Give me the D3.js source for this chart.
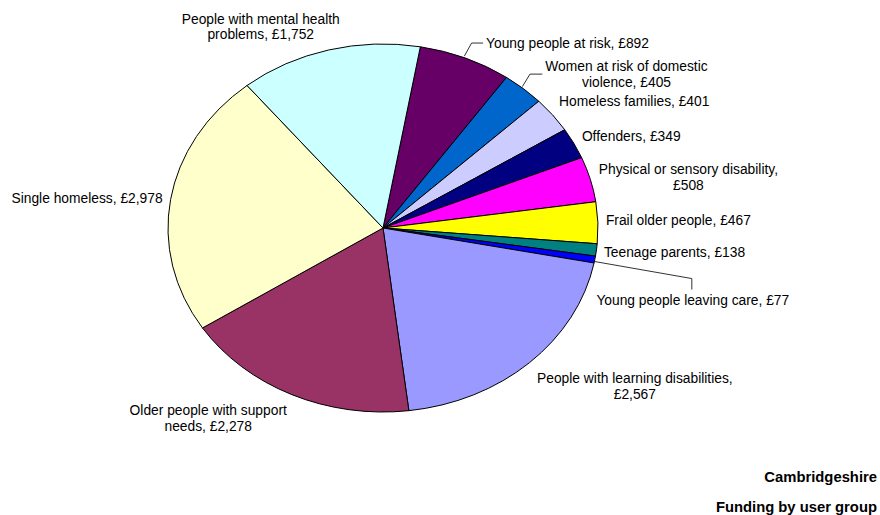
<!DOCTYPE html>
<html>
<head>
<meta charset="utf-8">
<script src="https://cdn.jsdelivr.net/npm/d3@7"></script>
<style>
  html, body { margin: 0; padding: 0; background: #fff; }
  svg { display: block; font-family: "Liberation Sans", Arial, sans-serif; }
</style>
</head>
<body>
<svg id="chart" width="880" height="515"></svg>
<script>
// Funding per user group (£ thousands), clockwise from the first slice
const categories = [
  "Young people at risk",
  "Women at risk of domestic violence",
  "Homeless families",
  "Offenders",
  "Physical or sensory disability",
  "Frail older people",
  "Teenage parents",
  "Young people leaving care",
  "People with learning disabilities",
  "Older people with support needs",
  "Single homeless",
  "People with mental health problems"
];
const values = [892, 405, 401, 349, 508, 467, 138, 77, 2567, 2278, 2978, 1752];
const colors = [
  "#660066", "#0066CC", "#CCCCFF", "#000080", "#FF00FF", "#FFFF00",
  "#008080", "#0000FF", "#9999FF", "#993366", "#FFFFCC", "#CCFFFF"
];
// number of words kept on the first label line (0 = single line)
const labelBreaks = [0, 5, 0, 0, 4, 0, 0, 0, 4, 4, 0, 4];
const titleLines = ["Cambridgeshire", "Funding by user group"];

// label placement relative to the slice edge at its mid angle
const labelLayout = [
  { dx: 20.7, dy: -15,  anchor: "left", leader: "elbowUp" },
  { dx: 22,   dy: -14.5, anchor: "left", leader: "elbowUp" },
  { dx: 6.5,  dy: -13,  anchor: "left" },
  { dx: 8,    dy: -7,   anchor: "left" },
  { dx: 8.5,  dy: -1.5, anchor: "left" },
  { dx: 8,    dy: -2,   anchor: "left" },
  { dx: 7.5,  dy: 3,    anchor: "left" },
  { dx: 98,   dy: 33,   anchor: "top", leader: "elbowDown" },
  { dx: 7.5,  dy: 23.5, anchor: "left" },
  { dx: -5,   dy: 24,   anchor: "right" },
  { dx: -8,   dy: -1,   anchor: "right" },
  { dx: 11,   dy: -23,  anchor: "right" }
];

const cx = 383, cy = 228, rx = 215, ry = 184;
const fontSize = 13.8, lineH = 15.8;
const startDeg = 10;

const svg = d3.select("#chart");
const fmt = d3.format(",");

const pie = d3.pie().sort(null).value(d => d)
  .startAngle(startDeg * Math.PI / 180)
  .endAngle((startDeg + 360) * Math.PI / 180);
const arcs = pie(values);
const arc = d3.arc().innerRadius(0).outerRadius(rx);

// pie drawn as a circle and flattened vertically into an ellipse
svg.append("g")
  .attr("transform", `translate(${cx},${cy}) scale(1,${ry / rx})`)
  .selectAll("path")
  .data(arcs)
  .join("path")
  .attr("d", arc)
  .attr("fill", (d, i) => colors[i])
  .attr("stroke", "#000")
  .attr("stroke-width", 1)
  .attr("vector-effect", "non-scaling-stroke");

const edgePoint = a => [cx + rx * Math.sin(a), cy - ry * Math.cos(a)];

const labels = svg.append("g")
  .attr("font-size", fontSize)
  .attr("fill", "#000");

arcs.forEach((d, i) => {
  const mid = (d.startAngle + d.endAngle) / 2;
  const [ex, ey] = edgePoint(mid);
  const lay = labelLayout[i];
  const words = `${categories[i]}, £${fmt(values[i])}`.split(" ");
  const lines = labelBreaks[i] > 0
    ? [words.slice(0, labelBreaks[i]).join(" "), words.slice(labelBreaks[i]).join(" ")]
    : [words.join(" ")];

  const t = labels.append("text").attr("text-anchor", "middle");
  lines.forEach((ln, k) => {
    t.append("tspan").text(ln);
  });
  // measure widest line to place the centred block
  const widths = [];
  t.selectAll("tspan").each(function () { widths.push(this.getComputedTextLength()); });
  const w = d3.max(widths);
  const h = lines.length * lineH;
  const px = ex + lay.dx, py = ey + lay.dy;
  let bx, by; // block centre
  if (lay.anchor === "left") { bx = px + w / 2; by = py; }
  else if (lay.anchor === "right") { bx = px - w / 2; by = py; }
  else if (lay.anchor === "top") { bx = px; by = py + h / 2; }
  t.selectAll("tspan")
    .attr("x", bx)
    .attr("y", (s, k) => by - h / 2 + lineH * (k + 0.5))
    .attr("dominant-baseline", "central");

  if (lay.leader === "elbowUp") {
    const elbowX = ex + (px - ex) * 0.3;
    svg.append("polyline")
      .attr("points", `${ex - 1},${ey - 2} ${elbowX},${py} ${px - 3},${py}`)
      .attr("fill", "none").attr("stroke", "#333").attr("stroke-width", 1);
  } else if (lay.leader === "elbowDown") {
    svg.append("polyline")
      .attr("points", `${ex},${ey + 2} ${px - 1},${py - 14} ${px - 1},${py - 3}`)
      .attr("fill", "none").attr("stroke", "#333").attr("stroke-width", 1);
  }
});

// titles, bottom right
svg.append("g")
  .attr("font-size", 14.8)
  .attr("font-weight", "bold")
  .attr("text-anchor", "end")
  .selectAll("text")
  .data(titleLines)
  .join("text")
  .attr("x", 877)
  .attr("y", (d, i) => 482 + i * 30)
  .text(d => d);
</script>
</body>
</html>
